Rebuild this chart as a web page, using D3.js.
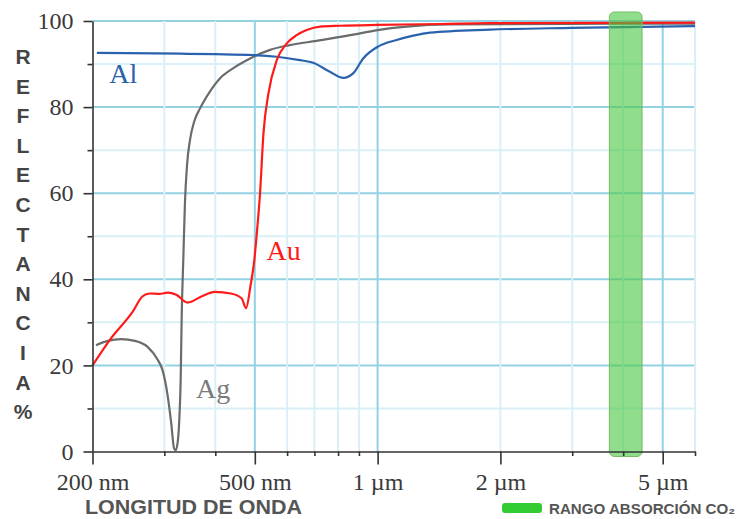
<!DOCTYPE html>
<html>
<head>
<meta charset="utf-8">
<script src="https://cdn.jsdelivr.net/npm/d3@7"></script>
<style>
  body { margin: 0; background: #fff; }
</style>
</head>
<body>
<script>
// reflectance (%) vs wavelength (nm)
var al = [[205, 92.6], [330, 92.4], [400, 92.3], [496, 92.1], [566, 91.7], [645, 90.9], [695, 90.3],
          [764, 88.2], [824, 86.8], [872, 87.9], [922, 91.3], [1000, 94.0], [1114, 95.6], [1223, 96.6],
          [1344, 97.3], [1886, 98.0], [3000, 98.4], [6000, 98.8]];

var au = [[200, 20], [222, 26.3], [251, 32.5], [265, 36], [276, 36.7], [292, 36.6], [306, 36.9],
          [321, 36.4], [342, 34.6], [370, 36], [399, 37.1], [437, 36.7], [464, 35.6], [476, 33.3],
          [488, 38.5], [498, 44], [506, 51], [515, 60], [525, 73.9], [540, 83.2], [566, 90.9],
          [599, 94.8], [633, 96.7], [670, 97.9], [723, 98.7], [809, 98.9], [1000, 99.1],
          [1422, 99.3], [1886, 99.5], [6000, 99.6]];

var ag = [[204, 24.7], [218, 25.7], [235, 26.1], [254, 25.7], [273, 24.3], [289, 21.3], [297, 18.9],
          [306, 12.7], [312, 6.5], [317, 0.7], [320, 0.3], [324, 2.7], [327, 8.9], [329, 16.6],
          [331, 32], [334, 45], [337, 57.6], [341, 66.5], [347, 72.5], [355, 76.6], [367, 79.7],
          [388, 83.6], [411, 86.7], [442, 89], [487, 91.3], [545, 93.3], [610, 94.4], [709, 95.4],
          [856, 96.7], [1000, 97.9], [1178, 98.7], [1500, 99.2], [6000, 99.4]];

var co2Band = [3700, 4450];

var xTicks = [200, 300, 400, 500, 600, 700, 800, 900, 1000, 2000, 3000, 4000, 5000, 6000];
var xMajor = [200, 500, 1000, 2000, 5000];
var xLabels = {200: "200 nm", 500: "500 nm", 1000: "1 µm", 2000: "2 µm", 5000: "5 µm"};
var yTicks = [0, 10, 20, 30, 40, 50, 60, 70, 80, 90, 100];
var yMajor = [0, 20, 40, 60, 80, 100];
var yTitle = "REFLECTANCIA%".split("");

var width = 744, height = 519;
var margin = ({top: 21, right: 49, bottom: 67.5, left: 92.5});

var x = d3.scaleLog()
    .domain([200, 6000])
    .range([margin.left, width - margin.right]);

var y = d3.scaleLinear()
    .domain([0, 100])
    .range([height - margin.bottom, margin.top]);

const svg = d3.select("body").append("svg")
    .attr("width", width)
    .attr("height", height);

//grid
var grid = svg.append("g");
grid.selectAll("line.h").data(yTicks.filter(d => d > 0)).enter().append("line")
    .attr("x1", x(200)).attr("x2", x(6000))
    .attr("y1", d => y(d)).attr("y2", d => y(d))
    .attr("stroke", d => yMajor.includes(d) ? "#93d2e3" : "#daf0f7")
    .attr("stroke-width", 2);
grid.selectAll("line.v").data(xTicks.filter(d => d > 200)).enter().append("line")
    .attr("x1", d => x(d)).attr("x2", d => x(d))
    .attr("y1", y(100)).attr("y2", y(0))
    .attr("stroke", d => [500, 1000, 5000].includes(d) ? "#93d2e3" : "#daf0f7")
    .attr("stroke-width", 2);

//curves
var line = d3.line()
    .x(d => x(d[0]))
    .y(d => y(d[1]))
    .curve(d3.curveMonotoneX);

var series = [
    {data: ag, color: "#6b6b6b"},
    {data: al, color: "#2b62ad"},
    {data: au, color: "#ff1a1a"}
];
svg.append("g").selectAll("path").data(series).enter().append("path")
    .attr("d", d => line(d.data))
    .attr("fill", "none")
    .attr("stroke", d => d.color)
    .attr("stroke-width", 2.2)
    .attr("stroke-linejoin", "round");

//co2 band
svg.append("rect")
    .attr("x", x(co2Band[0]))
    .attr("y", y(100) - 9)
    .attr("width", x(co2Band[1]) - x(co2Band[0]))
    .attr("height", y(0) - y(100) + 14)
    .attr("rx", 5)
    .attr("fill", "rgba(70, 200, 64, 0.6)")
    .attr("stroke", "#77bb66")
    .attr("stroke-width", 1);

//axes
var xAxis = g => g
    .attr("transform", `translate(0,${y(0)})`)
    .call(d3.axisBottom(x).tickValues(xTicks).tickSize(4.5).tickSizeOuter(0)
        .tickFormat(d => xLabels[d] || ""))
    .call(g => g.selectAll(".tick line").filter(d => xMajor.includes(d)).attr("y2", 13))
    .call(g => g.selectAll(".tick text").attr("y", 21));

var yAxis = g => g
    .attr("transform", `translate(${x(200)},0)`)
    .call(d3.axisLeft(y).tickValues(yTicks).tickSize(5).tickSizeOuter(0)
        .tickFormat(d => yMajor.includes(d) ? d : ""))
    .call(g => g.selectAll(".tick line").filter(d => yMajor.includes(d)).attr("x2", -9))
    .call(g => g.selectAll(".tick text").attr("x", -19));

[xAxis, yAxis].forEach(function(ax) {
    svg.append("g").call(ax)
        .call(g => g.selectAll(".domain, .tick line").attr("stroke", "#333").attr("stroke-width", 1.6))
        .call(g => g.selectAll(".tick text")
            .attr("fill", "#3a3a3a")
            .style("font-family", "'Liberation Serif', 'DejaVu Serif', serif")
            .style("font-size", "24px"));
});

//series labels
var labels = [
    {text: "Al", nm: 238, v: 85.5, color: "#2b62ad"},
    {text: "Au", nm: 588, v: 44.5, color: "#ff1a1a"},
    {text: "Ag", nm: 395, v: 12.5, color: "#7a7a7a"}
];
svg.append("g").selectAll("text").data(labels).enter().append("text")
    .attr("x", d => x(d.nm))
    .attr("y", d => y(d.v))
    .attr("text-anchor", "middle")
    .attr("fill", d => d.color)
    .style("font-family", "'Liberation Serif', serif")
    .style("font-size", "28px")
    .text(d => d.text);

//y title, stacked letters
svg.append("g").selectAll("text").data(yTitle).enter().append("text")
    .attr("x", 23)
    .attr("y", (d, i) => 64 + i * 29.6)
    .attr("text-anchor", "middle")
    .attr("fill", "#444")
    .style("font-family", "'Liberation Sans', Arial, sans-serif")
    .style("font-weight", "bold")
    .style("font-size", "21px")
    .text(d => d);

//x title
svg.append("text")
    .attr("x", 85)
    .attr("y", 514)
    .attr("textLength", 217)
    .attr("lengthAdjust", "spacingAndGlyphs")
    .attr("fill", "#555")
    .style("font-family", "'Liberation Sans', Arial, sans-serif")
    .style("font-weight", "bold")
    .style("font-size", "21px")
    .text("LONGITUD DE ONDA");

//legend
svg.append("rect")
    .attr("x", 502).attr("y", 503)
    .attr("width", 40).attr("height", 10)
    .attr("rx", 3)
    .attr("fill", "#33cc33");

svg.append("text")
    .attr("x", 549)
    .attr("y", 513.5)
    .attr("textLength", 186)
    .attr("lengthAdjust", "spacingAndGlyphs")
    .attr("fill", "#555")
    .style("font-family", "'Liberation Sans', Arial, sans-serif")
    .style("font-weight", "bold")
    .style("font-size", "15px")
    .text("RANGO ABSORCIÓN CO₂");
</script>
</body>
</html>
